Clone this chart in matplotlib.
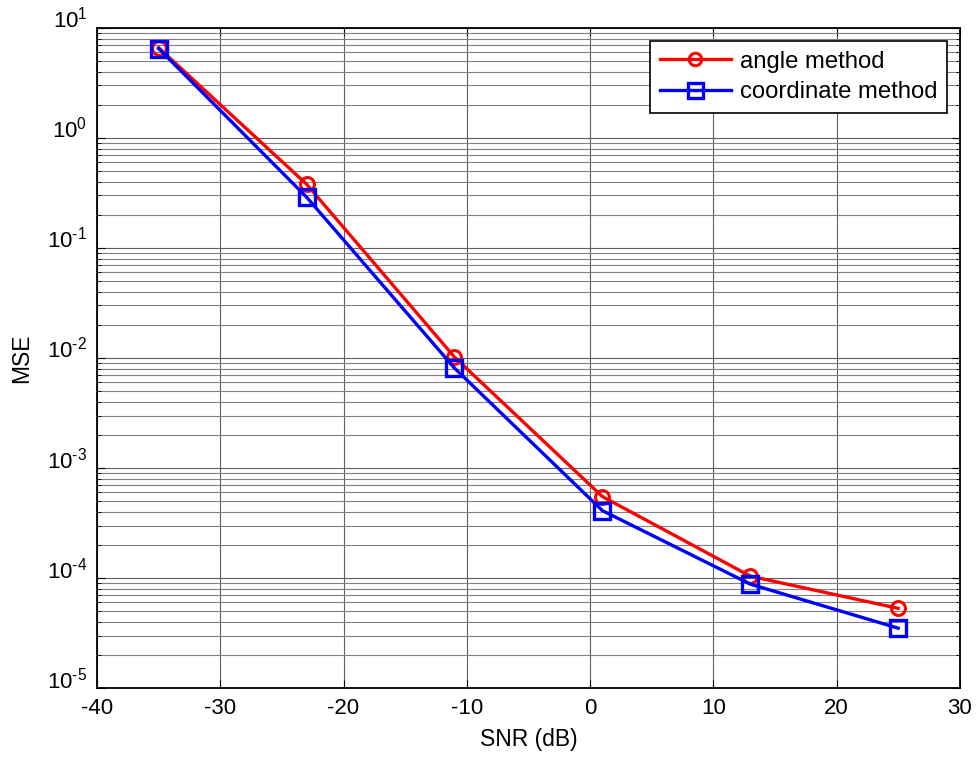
import numpy as np
import matplotlib.pyplot as plt
from matplotlib.ticker import LogLocator, NullFormatter, FuncFormatter

plt.rcParams['font.family'] = ['Liberation Sans', 'DejaVu Sans']
plt.rcParams['mathtext.fontset'] = 'custom'
plt.rcParams['mathtext.rm'] = 'Liberation Sans'
plt.rcParams['mathtext.it'] = 'Liberation Sans:italic'
plt.rcParams['mathtext.bf'] = 'Liberation Sans:bold'
plt.rcParams['axes.unicode_minus'] = False

snr = [-35, -23, -11, 1, 13, 25]
mse_angle = [6.6, 0.38, 0.0102, 5.5e-4, 1.04e-4, 5.3e-5]
mse_coord = [6.5, 0.29, 0.0081, 4.1e-4, 8.8e-5, 3.5e-5]


def log_label(v, pos):
    e = int(round(np.log10(v)))
    return r'$\mathregular{10^{\text{%d}}}$' % e


fig = plt.figure(figsize=(9.76, 7.57), dpi=100)
ax = fig.add_axes([0.0994, 0.0911, 0.884, 0.872])

ax.semilogy(snr, mse_angle, '-o', color='red', lw=2.4, ms=10,
            mfc='none', mew=2.2, label='angle method')
ax.semilogy(snr, mse_coord, '-s', color='blue', lw=2.4, ms=12,
            mfc='none', mew=2.4, label='coordinate method')

ax.set_xlim(-40, 30)
ax.set_ylim(1e-5, 1e1)
ax.set_xticks(np.arange(-40, 31, 10))
ax.yaxis.set_major_locator(LogLocator(base=10, numticks=10))
ax.yaxis.set_major_formatter(FuncFormatter(log_label))
ax.yaxis.set_minor_locator(LogLocator(base=10, subs=np.arange(2, 10), numticks=100))
ax.yaxis.set_minor_formatter(NullFormatter())

ax.grid(True, which='major', axis='both', color='#606060', lw=0.8)
ax.grid(True, which='minor', axis='y', color='#808080', lw=0.8)
ax.tick_params(which='both', direction='in', top=True, right=True, labelsize=16)
ax.tick_params(which='major', length=6, pad=7)
ax.tick_params(which='minor', length=3)
for s in ax.spines.values():
    s.set_linewidth(1.3)

# MATLAB puts the base of "10" on the tick line
for t in ax.yaxis.get_major_ticks():
    t.label1.set_verticalalignment('baseline')

ax.set_xlabel('SNR (dB)', fontsize=16.5, labelpad=7)
ax.set_ylabel('MSE', fontsize=16.5, labelpad=10)

leg = ax.legend(loc='upper right', fontsize=17.2, fancybox=False, framealpha=1,
                edgecolor='black', handlelength=3.0, borderpad=0.4,
                borderaxespad=0.55, labelspacing=0.35, handletextpad=0.35,
                markerscale=0.9)
leg.get_frame().set_linewidth(1.2)

fig.savefig('out.png', dpi=100)
